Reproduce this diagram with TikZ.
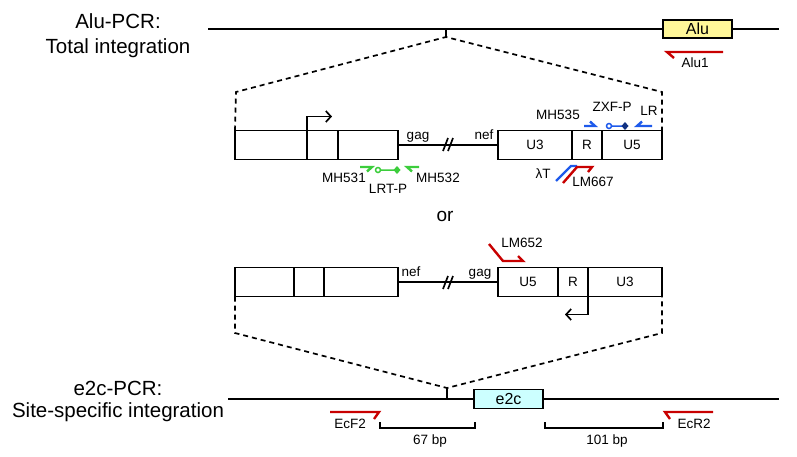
\documentclass[tikz,border=0pt]{standalone}
\usepackage{fontspec}
\setmainfont{Liberation Sans}
\usetikzlibrary{arrows.meta}
\definecolor{primred}{RGB}{200,0,0}
\definecolor{primblue}{RGB}{30,90,235}
\definecolor{primgreen}{RGB}{60,205,60}
\definecolor{alufill}{RGB}{255,247,153}
\definecolor{ecfill}{RGB}{204,255,255}
\tikzset{
	gene/.style={line width=1.7pt},
	seg/.style={draw, line width=1.7pt, minimum height=29pt, inner sep=0pt, outer sep=0pt, font=\fontsize{13.5}{15}\selectfont},
	lbl/.style={inner sep=0pt, font=\fontsize{13.5}{15}\selectfont},
	title/.style={inner sep=0pt, anchor=base, font=\fontsize{20.5}{24}\selectfont},
	primer/.style={line width=2.4pt},
	hinge/.style={line width=1.7pt, dash pattern=on 5pt off 4pt},
	prom/.style={line width=1.7pt, -{Straight Barb[length=5pt, width=11pt]}},
}
\begin{document}
\begin{tikzpicture}[x=1pt, y=-1pt]
	\useasboundingbox (0,0) rectangle (797,456);
	\node[title] (aluPcr) at (118,28) {Alu-PCR:};
	\node[title] (totInt) at (118,53) {Total integration};
	\node[title] (e2cPcr) at (118,395) {e2c-PCR:};
	\node[title] (siteInt) at (118,417) {Site-specific integration};

	\coordinate (topL) at (208,29);
	\coordinate (topR) at (779,29);
	\coordinate (topTick) at (446,29);
	\coordinate (apexT) at (446,37);
	\node[seg, fill=alufill, minimum width=69pt, minimum height=18pt, font=\fontsize{16}{18}\selectfont] (alu) at (697.5,29) {Alu};
	\path[gene] (topL) edge (alu) (alu) edge (topR) (topTick) edge (apexT);
	\node[lbl] (aluOne) at (695,63) {Alu1};

	\node[seg, minimum width=72pt] (up1) at (271,145) {};
	\node[seg, minimum width=31pt] (up2) at (322.5,145) {};
	\node[seg, minimum width=60pt] (up3) at (368,145) {};
	\node[seg, minimum width=74pt] (uA) at (535,145) {U3};
	\node[seg, minimum width=30pt] (uB) at (587,145) {R};
	\node[seg, minimum width=60pt] (uC) at (632,145) {U5};
	\path[gene] (up3) edge (uA);
	\draw[gene] (443,151) -- (448,138) (448,151) -- (453,138);
	\node[lbl] (gagUp) at (418,137) {gag};
	\node[lbl] (nefUp) at (484,135) {nef};
	\draw[prom] (up2.north west) -- ++(0,-14) -- ++(25,0);

	\coordinate (cTL) at (236,92);
	\coordinate (cTR) at (662,92);
	\draw[hinge] (up1.north west) -- (cTL) -- (apexT) -- (cTR) -- (uC.north east);

	\node[lbl] (mhA) at (558,115) {MH535};
	\node[lbl] (zxf) at (612,107) {ZXF-P};
	\node[lbl] (lr) at (649,111) {LR};
	\node[lbl] (mhB) at (344,178) {MH531};
	\node[lbl] (lrt) at (388,189) {LRT-P};
	\node[lbl] (mhC) at (438,178) {MH532};
	\node[lbl] (lamT) at (543,174) {λT};
	\node[lbl] (lmA) at (593,182) {LM667};

	\node[font=\fontsize{19}{22}\selectfont, inner sep=0pt] (orTxt) at (445,216) {or};

	\node[seg, minimum width=59pt] (dn1) at (264.5,282) {};
	\node[seg, minimum width=30pt] (dn2) at (309,282) {};
	\node[seg, minimum width=74pt] (dn3) at (361,282) {};
	\node[seg, minimum width=60pt] (dA) at (528,282) {U5};
	\node[seg, minimum width=30pt] (dB) at (573,282) {R};
	\node[seg, minimum width=74pt] (dC) at (625,282) {U3};
	\path[gene] (dn3) edge (dA);
	\draw[gene] (443,289) -- (448,276) (448,289) -- (453,276);
	\node[lbl] (nefDn) at (411,272) {nef};
	\node[lbl] (gagDn) at (480,274) {gag};
	\draw[prom] (dB.south east) -- ++(0,18) -- ++(-23,0);
	\node[lbl] (lmB) at (522,243) {LM652};

	\coordinate (cBL) at (235,333);
	\coordinate (cBR) at (662,333);
	\coordinate (apexB) at (447,388);
	\coordinate (botTick) at (447,399);
	\draw[hinge] (dn1.south west) -- (cBL) -- (apexB) -- (cBR) -- (dC.south east);

	\coordinate (botL) at (228,399);
	\coordinate (botR) at (779,399);
	\node[seg, fill=ecfill, minimum width=69pt, minimum height=19pt, font=\fontsize{16}{18}\selectfont] (ecBox) at (508.5,399) {e2c};
	\path[gene] (botL) edge (ecBox) (ecBox) edge (botR) (botTick) edge (apexB);
	\node[lbl] (ecF) at (350,424) {EcF2};
	\node[lbl] (ecR) at (694,424) {EcR2};
	\node[lbl] (bpA) at (430,441) {67 bp};
	\node[lbl] (bpB) at (607,441) {101 bp};
	\draw[gene, line width=1.4pt] (380,422) -- (380,428) -- (475,428) -- (475,422);
	\draw[gene, line width=1.4pt] (545,422) -- (545,428) -- (663,428) -- (663,422);

	\draw[primer, primred] (723,52) -- (667,52) -- (674,58);
	\draw[primer, primblue] (584,126) -- (595,126) -- (590,121.5);
	\draw[primer, primblue] (652,126) -- (637,126) -- (642,121.5);
	\draw[primblue, line width=1.5pt] (609,126) circle[radius=2.5pt] (611.5,126) -- (622,126);
	\fill[primblue!55!black] (625,122) -- (628.5,126) -- (625,130) -- (621.5,126) -- cycle;
	\draw[primer, primgreen] (360,167) -- (372,167) -- (367,171.5);
	\draw[primer, primgreen] (419,167) -- (407,167) -- (412,171.5);
	\draw[primgreen, line width=1.5pt] (378,170) circle[radius=2.5pt] (380.5,170) -- (394,170);
	\fill[primgreen] (397,166) -- (400.5,170) -- (397,174) -- (393.5,170) -- cycle;
	\draw[primer, primblue] (556,181) -- (571,166) -- (577,166);
	\draw[primer, primred] (563,183) -- (577,167) -- (592,167) -- (588,172);
	\draw[primer, primred] (489,244) -- (503,261) -- (523,261) -- (518,256);
	\draw[primer, primred] (330,412) -- (379,412) -- (374,419);
	\draw[primer, primred] (713,412) -- (665,412) -- (670,419);
\end{tikzpicture}
\end{document}
